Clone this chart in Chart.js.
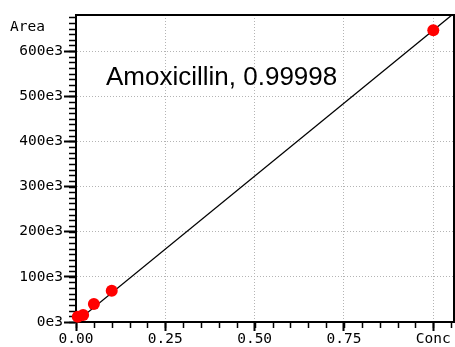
<!DOCTYPE html>
<html><head><meta charset="utf-8">
<script src="https://cdn.jsdelivr.net/npm/chart.js@4"></script>
<style>html,body{margin:0;padding:0;background:#fff}#wrap{width:455px;height:347px;position:relative}</style>
</head><body><div id="wrap"><canvas id="c"></canvas></div>
<script>
// ---- data ----
const concValues = [0.005, 0.02, 0.05, 0.1, 1.0];
const areaValues = [11700, 15500, 40000, 69400, 646000];
const fitConc = [0, 1.06];
const fitArea = [0, 685000];
const xTickValues = [0, 0.25, 0.5, 0.75, 1.0];
const xTickLabels = ['0.00', '0.25', '0.50', '0.75', 'Conc'];
const yTickValues = [0, 100000, 200000, 300000, 400000, 500000, 600000];
const yTickLabels = ['0e3', '100e3', '200e3', '300e3', '400e3', '500e3', '600e3'];
const xMinorStep = 0.05;
const yMinorStep = 12500;
const annotationText = 'Amoxicillin, 0.99998';
const yTitle = 'Area';

const tickFont = {family: '"DejaVu Sans Mono", monospace', size: 14.5};

const decor = {
  id: 'decor',
  beforeDatasetsDraw(chart) {
    const {ctx, chartArea: a, scales: {x, y}} = chart;
    ctx.save();
    ctx.strokeStyle = '#000';
    ctx.lineWidth = 1.5;
    ctx.beginPath();
    for (let i = 0; i * xMinorStep <= x.max + 1e-9; i++) {
      const px = Math.round(x.getPixelForValue(i * xMinorStep)) + 0.5;
      ctx.moveTo(px, a.bottom); ctx.lineTo(px, a.bottom + 6);
    }
    for (let i = 0; i * yMinorStep <= y.max + 1e-9; i++) {
      const py = Math.round(y.getPixelForValue(i * yMinorStep)) + 0.5;
      ctx.moveTo(a.left, py); ctx.lineTo(a.left - 7, py);
    }
    ctx.stroke();
    ctx.lineWidth = 2;
    ctx.beginPath();
    ctx.moveTo(a.left, a.top); ctx.lineTo(a.right, a.top); ctx.lineTo(a.right, a.bottom);
    ctx.stroke();
    ctx.restore();
  },
  afterDraw(chart) {
    const {ctx, scales: {x, y}} = chart;
    ctx.save();
    ctx.fillStyle = '#000';
    ctx.textBaseline = 'alphabetic';
    ctx.textAlign = 'left';
    ctx.font = '26px "Liberation Sans", Arial, sans-serif';
    ctx.fillText(annotationText, x.getPixelForValue(0.084), y.getPixelForValue(525000));
    ctx.font = '14.5px "DejaVu Sans Mono", monospace';
    ctx.fillText(yTitle, 10, 31);
    ctx.restore();
  }
};

new Chart(document.getElementById('c'), {
  type: 'scatter',
  data: {
    datasets: [
      {
        type: 'line',
        data: fitConc.map((c, i) => ({x: c, y: fitArea[i]})),
        borderColor: '#000',
        borderWidth: 1.3,
        pointRadius: 0,
        fill: false,
        order: 2
      },
      {
        data: concValues.map((c, i) => ({x: c, y: areaValues[i]})),
        backgroundColor: '#ff0000',
        borderWidth: 0,
        pointRadius: 6,
        pointHoverRadius: 6,
        clip: false,
        order: 1
      }
    ]
  },
  options: {
    responsive: true,
    maintainAspectRatio: false,
    animation: false,
    events: [],
    layout: {autoPadding: false, padding: {top: 15, right: 1, left: 0, bottom: 0}},
    plugins: {legend: {display: false}, tooltip: {enabled: false}, title: {display: false}},
    scales: {
      x: {
        type: 'linear',
        min: 0,
        max: 1.058,
        afterBuildTicks: s => { s.ticks = xTickValues.map(v => ({value: v})); },
        afterFit: s => { s.height = 25; s.paddingRight = 0; s.paddingLeft = 0; },
        ticks: {
          font: tickFont, color: '#000', padding: 0, maxRotation: 0, autoSkip: false,
          callback: (v, i) => xTickLabels[i]
        },
        grid: {color: '#b4b4b4', lineWidth: 1, tickLength: 9, tickColor: '#000', tickWidth: 2},
        border: {color: '#000', width: 2, dash: [1, 2]}
      },
      y: {
        type: 'linear',
        min: 0,
        max: 680000,
        afterBuildTicks: s => { s.ticks = yTickValues.map(v => ({value: v})); },
        afterFit: s => { s.width = 76; s.paddingTop = 0; s.paddingBottom = 0; },
        ticks: {
          font: tickFont, color: '#000', padding: 1, autoSkip: false,
          callback: (v, i) => yTickLabels[i]
        },
        grid: {color: '#b4b4b4', lineWidth: 1, tickLength: 12, tickColor: '#000', tickWidth: 2},
        border: {color: '#000', width: 2, dash: [1, 2]}
      }
    }
  },
  plugins: [decor]
});
</script>
</body></html>
